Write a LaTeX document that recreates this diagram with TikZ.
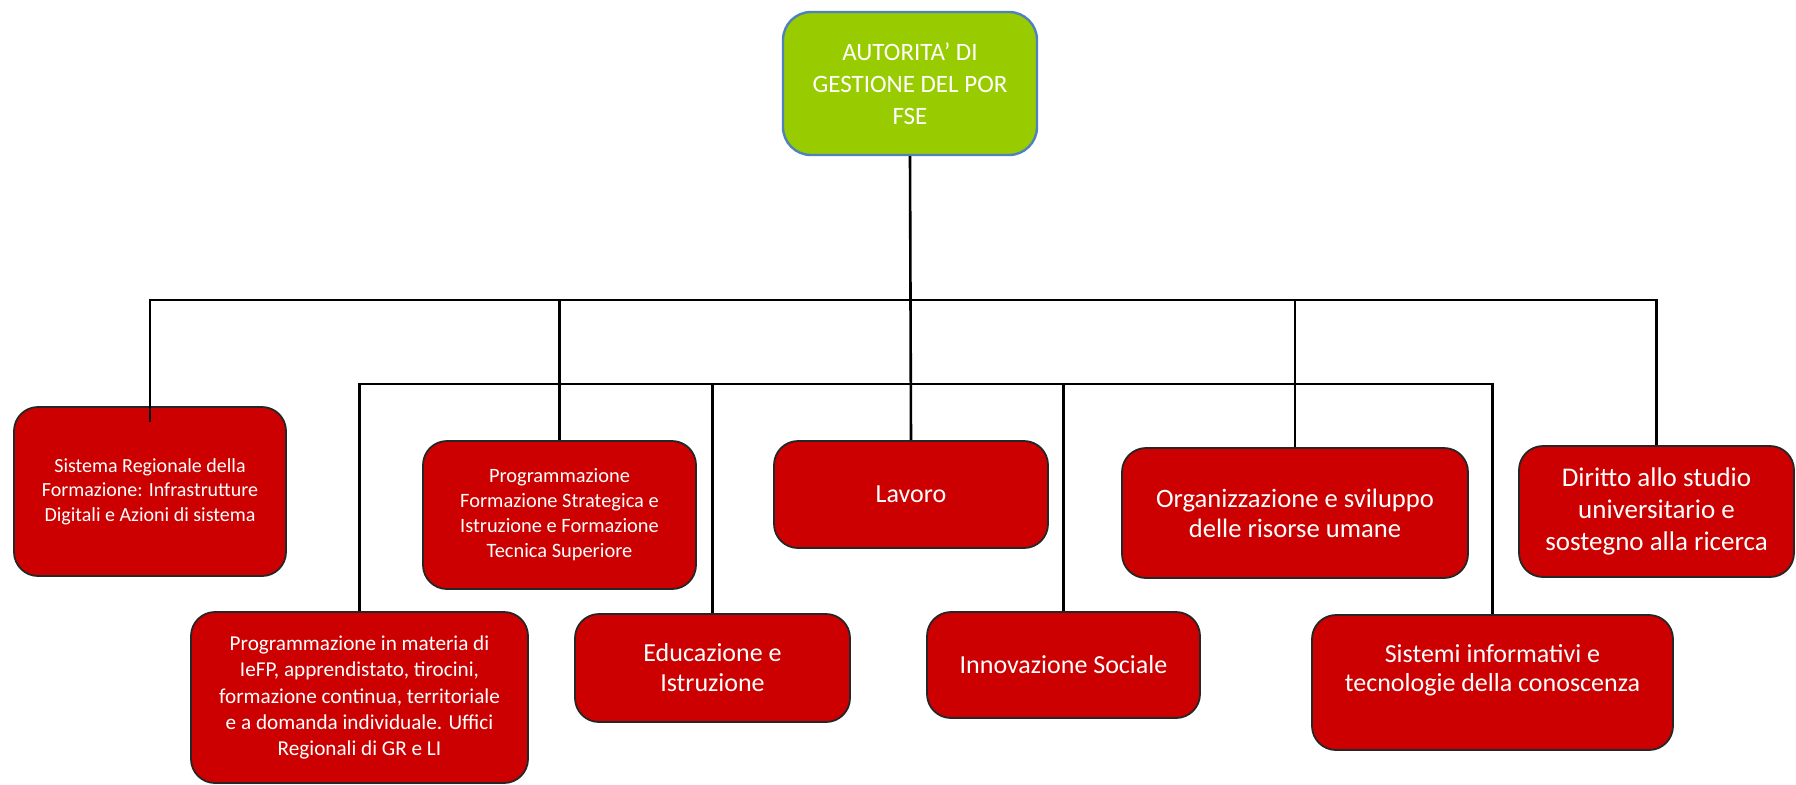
\documentclass[tikz,border=0pt]{standalone}
\usepackage{fontspec}
\setmainfont{Carlito}
\definecolor{porgreen}{HTML}{99CC00}
\definecolor{porblue}{HTML}{4F81BD}
\definecolor{porred}{HTML}{CC0000}
\usetikzlibrary{positioning}

\begin{document}
\begin{tikzpicture}[x=0.5pt,y=-0.5pt,
  unit/.style={draw=black!85,line width=0.9pt,rounded corners=12pt,fill=porred,
    text=white,align=center,inner sep=2pt},
  head/.style={draw=porblue,line width=1.2pt,rounded corners=14pt,fill=porgreen,
    text=white,align=center,minimum width=127pt,minimum height=71.5pt},
  wire/.style={line width=1.3pt,black}]
  \useasboundingbox (0,0) rectangle (1796,784);
  \node[head,font=\fontsize{12.5}{16}\selectfont] (por) at (910,83.5)
    {AUTORITA' DI\\GESTIONE DEL POR\\FSE};
  % first row
  \node[unit,minimum width=136pt,minimum height=84.5pt,font=\fontsize{10}{12.2}\selectfont]
    (sis) at (150,491.5) {Sistema Regionale della\\Formazione: Infrastrutture\\Digitali e Azioni di sistema};
  \node[unit,minimum width=136.5pt,minimum height=74pt,font=\fontsize{10.2}{12.5}\selectfont]
    (prs) at (559.5,515) {Programmazione\\Formazione Strategica e\\Istruzione e Formazione\\Tecnica Superiore};
  \node[unit,minimum width=137pt,minimum height=53.5pt,font=\fontsize{13}{15}\selectfont]
    (lav) at (911,494.5) {Lavoro};
  \node[unit,minimum width=173pt,minimum height=65pt,font=\fontsize{13.3}{15}\selectfont]
    (org) at (1295,513) {Organizzazione e sviluppo\\delle risorse umane};
  \node[unit,minimum width=137.5pt,minimum height=65.5pt,font=\fontsize{13.5}{16}\selectfont]
    (dir) at (1656.5,511.5) {Diritto allo studio\\universitario e\\sostegno alla ricerca};
  % second row
  \node[unit,minimum width=168.5pt,minimum height=85.5pt,font=\fontsize{10.6}{13.2}\selectfont]
    (pma) at (359.5,697.5) {Programmazione in materia di\\IeFP, apprendistato, tirocini,\\formazione continua, territoriale\\e a domanda individuale. Uffici\\Regionali di GR e LI};
  \node[unit,minimum width=137.5pt,minimum height=54pt,font=\fontsize{13}{15}\selectfont]
    (edu) at (712.5,668) {Educazione e\\Istruzione};
  \node[unit,minimum width=136.5pt,minimum height=53pt,font=\fontsize{13}{15}\selectfont]
    (inn) at (1063.5,665) {Innovazione Sociale};
  \node[unit,minimum width=180.5pt,minimum height=67.5pt,font=\fontsize{13}{14.5}\selectfont]
    (sti) at (1492.5,682.5) {Sistemi informativi e\\tecnologie della conoscenza\\[0pt]};
  % buses
  \coordinate (upbus) at (910,300);
  \coordinate (lowbus) at (910,384);
  \draw[wire] (por.south) -- (lav.north);
  \draw[wire,shorten <=-8pt] (sis.north) |- (upbus);
  \draw[wire] (prs.north) |- (upbus);
  \draw[wire] (org.north) |- (upbus);
  \draw[wire] (dir.north) |- (upbus);
  \draw[wire] (pma.north) |- (lowbus);
  \draw[wire] (edu.north) |- (lowbus);
  \draw[wire] (inn.north) |- (lowbus);
  \draw[wire] (sti.north) |- (lowbus);
\end{tikzpicture}
\end{document}
